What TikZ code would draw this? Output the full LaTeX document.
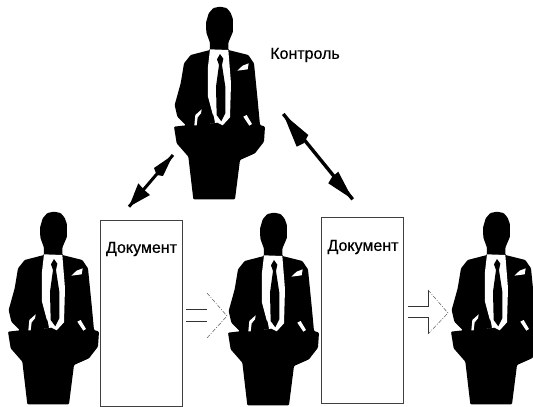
\documentclass[tikz,border=0pt]{standalone}
\usepackage{fontspec}
\setmainfont{Liberation Sans}[BoldFont={Liberation Sans},BoldFeatures={FakeBold=0.6}]
\tikzset{
  speaker/.pic={
    \begin{scope}[x=0.3333pt,y=-0.3333pt]
      \fill[black,rounded corners=1pt] (180,20) -- (160,24) -- (146,40) -- (138,68) -- (139,98) -- (150,128) -- (150,150)
        -- (92,165) -- (72,190) -- (62,250) -- (44,315) -- (52,350) -- (78,376) -- (42,380) -- (50,430) -- (85,470)
        -- (100,598) -- (225,598) -- (240,480) -- (285,460) -- (312,425) -- (315,380) -- (300,375) -- (293,300)
        -- (282,190) -- (265,165) -- (205,150) -- (205,128) -- (219,95) -- (219,58) -- (212,38) -- (200,24) -- cycle;
      \fill[white] (150,148) -- (144,200) -- (144,290) -- (160,350) -- (150,370) -- (172,368) -- (188,376) -- (210,352)
        -- (213,250) -- (205,150) -- cycle;
      \fill[black] (180,162) -- (171,178) -- (177,195) -- (168,260) -- (170,345) -- (184,364) -- (196,340) -- (196,260)
        -- (186,195) -- (190,176) -- cycle;
      \fill[black] (128,332) -- (160,345) -- (165,368) -- (108,378) -- cycle;
      \fill[white] (232,212) -- (248,197) -- (266,190) -- (263,208) -- cycle;
      \fill[white] (103,376) -- (106,345) -- (125,328) -- (123,340) -- (113,352) -- (110,376) -- cycle;
      \fill[white] (250,350) -- (260,345) -- (276,372) -- (268,377) -- cycle;
    \end{scope}
  },
  docbox/.style={draw=black!75,line width=1pt,fill=white,minimum width=82pt,minimum height=186pt,inner sep=0pt},
  doclabel/.style={font=\fontsize{16}{18}\selectfont\bfseries,inner sep=0pt},
  bigshaft/.style={draw=black,line width=3.4pt},
  smallshaft/.style={draw=black,line width=3pt},
  headfill/.style={fill=black},
  shaftline/.style={draw=black!80,line width=1pt},
  tipline/.style={draw=black!65,line width=0.5pt,dash pattern=on 4pt off 1.5pt on 1pt off 1.5pt},
}
\begin{document}
\begin{tikzpicture}[x=1pt,y=-1pt]
  \useasboundingbox (0,0) rectangle (533,407);
  \pic at (160,0) {speaker};
  \pic at (-6,205) {speaker};
  \pic at (214,206) {speaker};
  \pic at (437,205) {speaker};
  \node[docbox] (doca) at (141.7,313) {};
  \node[docbox] (docb) at (362.5,310) {};
  \node[doclabel] (labela) at (141.5,249) {Документ};
  \node[doclabel] (labelb) at (363,247) {Документ};
  \node[doclabel] (ctrl) at (305,55) {Контроль};
  % right double arrow
  \coordinate (pa) at (283.3,114);
  \coordinate (pb) at (352.7,199.3);
  \draw[bigshaft] (pa) -- (pb);
  \fill[headfill] (pa) -- (308.3,135) -- (304,143) -- (296.7,146.7) -- cycle;
  \fill[headfill] (pb) -- (338.3,171.7) -- (332,177) -- (328.3,183.3) -- cycle;
  % left double arrow
  \coordinate (pc) at (173,155);
  \coordinate (pd) at (129,206.7);
  \draw[smallshaft] (pc) -- (pd);
  \fill[headfill] (pc) -- (154,168) -- (156.7,175) -- (163,176) -- cycle;
  \fill[headfill] (pd) -- (138.3,183.3) -- (144.3,190) -- (150,195) -- cycle;
  % first hollow arrow
  \coordinate (a1) at (186,309); \coordinate (a2) at (207,309);
  \coordinate (a3) at (186,321); \coordinate (a4) at (207,321);
  \coordinate (a5) at (207,293); \coordinate (a6) at (227,316); \coordinate (a7) at (207,338);
  \draw[shaftline] (a1) -- (a2);
  \draw[shaftline] (a3) -- (a4);
  \draw[tipline] (a5) -- (a6) -- (a7);
  % second hollow arrow
  \coordinate (b1) at (408,306); \coordinate (b2) at (428,306); \coordinate (b3) at (428,290);
  \coordinate (b4) at (408,317); \coordinate (b5) at (428,317); \coordinate (b6) at (428,334);
  \coordinate (b7) at (448,313);
  \draw[shaftline] (b1) -- (b2) -- (b3);
  \draw[shaftline] (b4) -- (b5) -- (b6);
  \draw[tipline] (b3) -- (b7) -- (b6);
\end{tikzpicture}
\end{document}
